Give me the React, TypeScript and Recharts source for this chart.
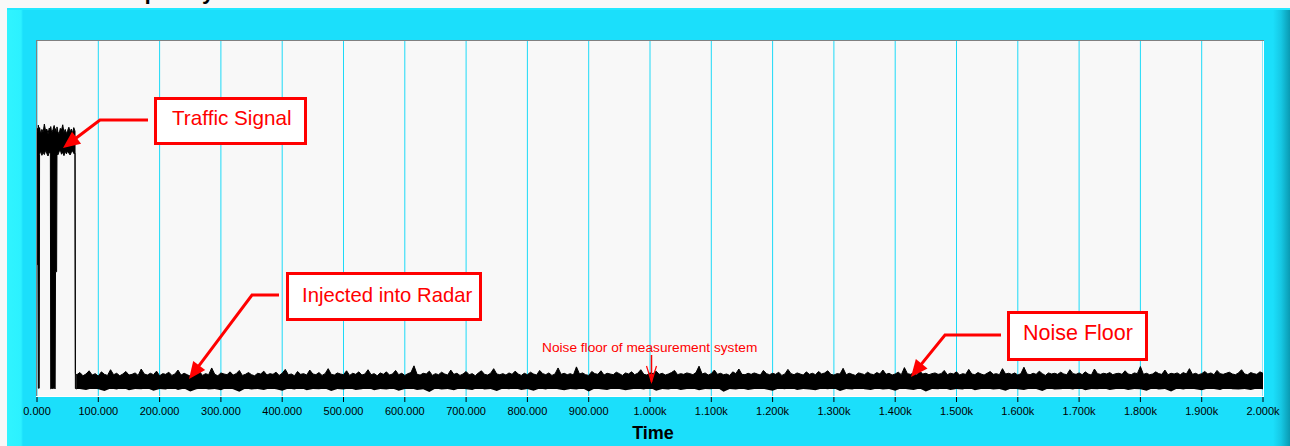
import React from 'react';
import { ComposedChart, Area, XAxis, YAxis, CartesianGrid } from 'recharts';

// ---------- data ----------
const xTicks = [0, 100, 200, 300, 400, 500, 600, 700, 800, 900, 1000, 1100, 1200, 1300, 1400, 1500, 1600, 1700, 1800, 1900, 2000];

// traffic signal burst (time, low envelope, high envelope)
const trafficTime = [0, 0.6, 1.6, 2.2, 3.6, 4.2, 6, 8, 10, 12, 14, 16, 18, 20, 21.8, 22.4, 24, 26, 28, 29.6, 30.2, 32, 32.6, 34, 36, 38, 40, 42, 44, 46, 48, 50, 52, 54, 56, 58, 60, 62, 62.6, 65];
const trafficLow = [68.5, 37, 37, 2.2, 2.2, 68, 69, 67.8, 68.6, 68, 69.2, 68.3, 67.6, 68.8, 68.2, 2.0, 2.2, 2.1, 2.3, 2.0, 35, 35, 68.5, 67.9, 68.8, 69.3, 68.1, 68.7, 67.7, 68.9, 68.2, 69.0, 68.4, 67.9, 68.6, 69.1, 68.3, 68.4, 2.1, 2.0];
const trafficHigh = [74.2, 75.4, 74.6, 76.3, 74.0, 75.6, 73.8, 75.1, 74.3, 76.6, 74.7, 75.2, 73.9, 75.5, 74.6, 75.9, 74.1, 75.0, 76.2, 74.4, 75.3, 74.0, 75.8, 74.5, 73.7, 75.4, 74.9, 76.4, 74.2, 75.1, 73.9, 74.8, 75.7, 74.3, 75.2, 74.0, 75.6, 74.6, 6.3, 6.0];

// noise floor upper envelope, sampled every 5 time units from t = 65 to t = 2000
const noiseHighStart = 65;
const noiseHighStep = 5;
const noiseHigh = [
  6.0, 6.6, 5.7, 6.2, 7.1, 5.9, 6.3, 5.6, 6.8, 6.1, 5.8, 7.4, 6.0, 6.4, 5.7, 6.2, 6.9, 5.9, 6.1, 6.5,
  5.8, 7.6, 6.2, 5.9, 6.4, 6.0, 7.0, 5.7, 6.3, 6.1, 6.7, 5.8, 6.2, 7.3, 5.9, 6.4, 6.0, 5.6, 6.6, 6.2,
  6.9, 5.8, 6.3, 6.0, 7.9, 6.1, 5.7, 6.5, 6.2, 6.0, 6.8, 5.9, 6.3, 7.2, 5.8, 6.1, 6.6, 6.0, 5.7, 6.4,
  6.2, 7.0, 5.9, 6.3, 6.1, 6.7, 5.8, 6.4, 7.5, 6.0, 6.2, 5.7, 6.9, 6.1, 6.3, 5.9, 7.3, 6.2, 6.0, 6.6,
  5.8, 6.3, 7.7, 6.1, 5.9, 6.5, 6.2, 6.0, 7.1, 5.8, 6.4, 6.1, 6.8, 5.9, 6.2, 7.4, 6.0, 6.3, 5.7, 6.5,
  6.1, 6.8, 5.9, 6.2, 7.2, 6.0, 6.4, 5.8, 6.3, 6.6, 8.5, 6.1, 5.9, 6.4, 6.2, 7.0, 5.8, 6.3, 6.0, 6.7,
  6.2, 5.9, 7.3, 6.1, 6.4, 5.8, 6.2, 6.9, 6.0, 6.3, 5.7, 6.5, 7.1, 6.1, 5.9, 6.4, 7.7, 6.2, 6.0, 6.3,
  5.9, 6.5, 6.1, 7.0, 6.2, 5.8, 6.4, 6.0, 6.7, 6.2, 5.9, 7.2, 6.3, 6.0, 6.5, 5.8, 6.2, 7.9, 6.1, 6.4,
  6.0, 6.3, 5.9, 8.2, 6.2, 6.5, 6.0, 5.8, 6.9, 6.3, 6.1, 7.1, 5.9, 6.4, 6.2, 6.0, 6.7, 6.3, 5.8, 6.5,
  6.2, 6.8, 6.0, 6.4, 7.4, 6.1, 5.9, 6.5, 6.3, 7.0, 6.1, 6.4, 5.9, 6.2, 6.6, 7.2, 6.0, 6.3, 6.1, 6.5,
  6.3, 6.0, 6.6, 8.4, 6.2, 6.5, 5.9, 6.3, 7.3, 6.1, 6.4, 6.0, 6.2, 5.8, 6.8, 6.3, 7.6, 6.1, 6.0, 6.4,
  6.1, 6.5, 6.2, 5.9, 7.2, 6.3, 6.0, 6.4, 6.1, 6.7, 5.8, 6.2, 7.5, 6.3, 6.0, 6.5, 6.2, 5.9, 6.8, 6.1,
  6.4, 6.0, 6.9, 6.2, 6.5, 7.1, 6.1, 5.9, 6.3, 6.2, 7.8, 6.0, 6.4, 6.1, 5.8, 6.5, 6.3, 6.0, 6.7, 6.2,
  6.0, 6.6, 6.2, 7.3, 6.1, 6.4, 5.9, 6.2, 6.7, 6.0, 8.0, 6.3, 6.1, 6.5, 5.9, 7.0, 6.2, 6.4, 6.0, 6.3,
  6.5, 6.1, 6.3, 7.2, 6.0, 6.4, 6.2, 6.8, 5.9, 6.3, 6.1, 7.5, 6.2, 6.0, 6.6, 6.2, 5.9, 6.4, 6.9, 6.1,
  6.3, 6.0, 7.7, 6.2, 6.4, 6.1, 6.5, 5.9, 6.3, 8.1, 6.2, 6.0, 6.4, 6.1, 7.0, 6.3, 5.8, 6.5, 6.2, 6.4,
  6.1, 6.7, 6.2, 6.0, 7.4, 6.3, 6.1, 6.5, 6.0, 6.8, 6.2, 5.9, 7.6, 6.3, 6.1, 6.4, 6.2, 6.6, 6.0, 6.3,
  6.4, 6.1, 7.1, 6.2, 6.0, 6.5, 6.3, 8.3, 6.1, 6.4, 6.0, 6.2, 6.8, 6.3, 6.1, 7.3, 6.0, 6.4, 6.2, 6.5,
  6.0, 6.6, 6.2, 7.7, 6.1, 6.4, 6.0, 6.3, 6.9, 6.2, 6.5, 6.0, 7.2, 6.3, 6.1, 6.4, 6.7, 6.2, 6.0, 6.5,
  7.4, 6.2, 6.0, 6.6, 6.3, 6.1, 6.8, 6.4,
];
// flat lower edge under the upper-envelope fill, and top of the lower-envelope fill (they overlap)
const noiseFloorBase = 2.0;
const noiseLowTop = 3.2;
// noise floor lower envelope, sampled every 10 time units from t = 70 to t = 2000
const noiseLowStart = 70;
const noiseLowStep = 10;
const noiseLow = [
  2.0, 1.7, 2.2, 1.9, 1.4, 2.1, 1.8, 2.3, 1.6, 2.0,
  1.9, 2.2, 1.5, 2.0, 1.8, 2.4, 1.7, 2.1, 1.3, 1.9,
  2.2, 1.8, 2.0, 1.6, 2.3, 1.9, 1.2, 2.1, 1.8, 2.0,
  1.7, 2.2, 1.9, 1.5, 2.1, 1.8, 2.3, 1.6, 2.0, 1.9,
  2.1, 1.4, 2.0, 1.8, 2.2, 1.7, 1.9, 2.3, 1.6, 2.0,
  1.8, 2.1, 1.5, 2.0, 2.2, 1.7, 1.9, 1.1, 2.1, 1.8,
  2.0, 1.6, 2.2, 1.9, 1.7, 2.3, 1.8, 2.0, 1.4, 2.1,
  1.9, 2.2, 1.7, 2.0, 1.5, 2.1, 1.8, 2.3, 1.9, 1.6,
  2.0, 1.8, 2.2, 1.3, 2.1, 1.9, 1.7, 2.2, 2.0, 1.6,
  1.9, 2.1, 1.8, 2.3, 1.5, 2.0, 1.8, 2.2, 1.7, 2.0,
  2.1, 1.6, 2.0, 1.9, 2.3, 1.2, 2.0, 1.8, 2.1, 1.7,
  2.0, 2.2, 1.8, 1.5, 2.1, 1.9, 2.3, 1.7, 2.0, 1.8,
  1.6, 2.1, 1.9, 2.2, 1.4, 2.0, 1.8, 2.3, 1.9, 1.7,
  2.1, 1.8, 2.0, 1.5, 2.2, 1.9, 1.7, 2.1, 1.3, 2.0,
  1.9, 2.2, 1.7, 2.0, 1.8, 2.3, 1.6, 2.0, 2.1, 1.8,
  2.0, 1.5, 2.2, 1.9, 1.7, 2.1, 2.0, 1.4, 2.2, 1.8,
  1.9, 2.1, 1.8, 2.3, 1.6, 2.0, 1.9, 2.2, 1.7, 2.0,
  2.1, 1.7, 2.0, 1.9, 1.5, 2.2, 1.8, 2.0, 1.3, 2.1,
  1.8, 2.2, 1.9, 1.6, 2.1, 2.0, 1.7, 2.3, 1.9, 1.8,
  2.0, 1.7, 2.1, 1.9,
];

const trafficRows = trafficTime.map((t, i) => ({ t, band: [trafficLow[i], trafficHigh[i]] }));
const noiseHighRows = noiseHigh.map((v, i) => ({ t: noiseHighStart + i * noiseHighStep, hi: v }));
const noiseLowRows = noiseLow.map((v, i) => ({ t: noiseLowStart + i * noiseLowStep, lo: [v, noiseLowTop] }));

const fmtTick = (v: number) => (v < 1000 ? v.toFixed(3) : (v / 1000).toFixed(3) + 'k');

// ---------- layout ----------
const W = 1290;
const H = 446;
const PL = 37, PR = 1263, PT = 41, PB = 396;
const RED = '#FF0000';
const FONT = 'Arial, "Liberation Sans", Helvetica, sans-serif';

function arrowHead(fx: number, fy: number, tx: number, ty: number, len = 17, half = 7.5) {
  const dx = tx - fx, dy = ty - fy;
  const d = Math.hypot(dx, dy);
  const ux = dx / d, uy = dy / d;
  const bx = tx - ux * len, by = ty - uy * len;
  const px = -uy * half, py = ux * half;
  return `${tx},${ty} ${bx + px},${by + py} ${bx - px},${by - py}`;
}

function Callout({ pts }: { pts: number[][] }) {
  const n = pts.length;
  const [fx, fy] = pts[n - 2];
  const [tx, ty] = pts[n - 1];
  const d = Math.hypot(tx - fx, ty - fy);
  const sx = tx - ((tx - fx) / d) * 12;
  const sy = ty - ((ty - fy) / d) * 12;
  const linePts = [...pts.slice(0, n - 1), [sx, sy]].map((p) => p.join(',')).join(' ');
  return (
    <g>
      <polyline points={linePts} fill="none" stroke={RED} strokeWidth={3} />
      <polygon points={arrowHead(fx, fy, tx, ty)} fill={RED} />
    </g>
  );
}

export default function App() {
  return (
    <div style={{ position: 'absolute', left: 0, top: 0, width: W, height: H, background: '#F8F8F8', overflow: 'hidden' }}>
      {/* cyan panel */}
      <div
        style={{
          position: 'absolute',
          left: 7,
          top: 8,
          width: W - 7,
          height: H - 8,
          background:
            'linear-gradient(to right, #30F4FF 0px, #2CF1FF 14px, #1BDFFB 16px, #1BDFFB 1266px, #16C8E4 1274px, #0A9AB2 1283px)',
        }}
      />
      <div style={{ position: 'absolute', left: 7, top: 8, width: W - 7, height: 2, background: '#22E8FF' }} />
      <div style={{ position: 'absolute', left: 0, top: 0 }}>
        <ComposedChart
          width={W}
          height={H}
          margin={{ left: PL, right: W - PR, top: PT, bottom: H - PB - 30 }}
        >
          <CartesianGrid horizontal={false} vertical stroke="#1CDAF8" strokeWidth={1} fill="#F8F8F8" fillOpacity={1} />
          <XAxis
            dataKey="t"
            type="number"
            domain={[0, 2000]}
            ticks={xTicks}
            interval={0}
            tickFormatter={fmtTick}
            axisLine={false}
            tickLine={{ stroke: '#000' }}
            tickSize={6}
            tickMargin={5}
            height={30}
            tick={{ fill: '#000', fontSize: 11, fontFamily: FONT }}
          />
          <YAxis hide type="number" domain={[0, 100]} />
          <Area
            data={trafficRows}
            type="linear"
            dataKey="band"
            stroke="#000"
            strokeWidth={1}
            fill="#000"
            fillOpacity={1}
            dot={false}
            activeDot={false}
            isAnimationActive={false}
          />
          <Area
            data={noiseHighRows}
            type="linear"
            dataKey="hi"
            baseValue={noiseFloorBase}
            stroke="#000"
            strokeWidth={1}
            fill="#000"
            fillOpacity={1}
            dot={false}
            activeDot={false}
            isAnimationActive={false}
          />
          <Area
            data={noiseLowRows}
            type="linear"
            dataKey="lo"
            stroke="none"
            fill="#000"
            fillOpacity={1}
            dot={false}
            activeDot={false}
            isAnimationActive={false}
          />
        </ComposedChart>
      </div>
      {/* frame, annotations */}
      <svg width={W} height={H} style={{ position: 'absolute', left: 0, top: 0, pointerEvents: 'none' }}>
        <text x={103} y={-1.5} fontFamily={FONT} fontWeight="bold" fontSize={22} fill="#000">Frequency</text>
        <line x1={36.5} y1={40} x2={36.5} y2={397} stroke="#808080" strokeWidth={1} />
        <line x1={36} y1={40.5} x2={1264} y2={40.5} stroke="#808080" strokeWidth={1} />
        <line x1={36} y1={396.5} x2={1264} y2={396.5} stroke="#FFFFFF" strokeWidth={1} />
        <line x1={1263.5} y1={41} x2={1263.5} y2={397} stroke="#FFFFFF" strokeWidth={1} />

        {/* Traffic Signal */}
        <rect x={155.5} y={98.5} width={150} height={45} fill="#FFFFFF" stroke={RED} strokeWidth={3} />
        <text x={172} y={125} fontFamily={FONT} fontSize={20.7} fill={RED}>Traffic Signal</text>
        <Callout pts={[[148, 120], [100, 120], [63, 148]]} />

        {/* Injected into Radar */}
        <rect x={287.5} y={273.5} width={193} height={46} fill="#FFFFFF" stroke={RED} strokeWidth={3} />
        <text x={302} y={302} fontFamily={FONT} fontSize={20.3} fill={RED}>Injected into Radar</text>
        <Callout pts={[[279, 295], [252, 295], [189, 379]]} />

        {/* Noise Floor */}
        <rect x={1008.5} y={312.5} width={138} height={47} fill="#FFFFFF" stroke={RED} strokeWidth={3} />
        <text x={1023} y={340} fontFamily={FONT} fontSize={21.5} fill={RED}>Noise Floor</text>
        <Callout pts={[[1001, 335], [945, 335], [911, 377]]} />

        {/* Noise floor of measurement system */}
        <text x={542} y={352} fontFamily={FONT} fontSize={13.7} fill={RED}>Noise floor of measurement system</text>
        <line x1={651.5} y1={355} x2={651.5} y2={382} stroke={RED} strokeWidth={1.5} />
        <polyline points="646.5,366 651.5,382 656.5,366" fill="none" stroke={RED} strokeWidth={1.2} />
        <polygon points="649.5,374 653.5,374 651.5,382" fill={RED} />

        {/* axis title */}
        <text x={653} y={439} textAnchor="middle" fontFamily={FONT} fontWeight="bold" fontSize={18} fill="#000">Time</text>
      </svg>
    </div>
  );
}
